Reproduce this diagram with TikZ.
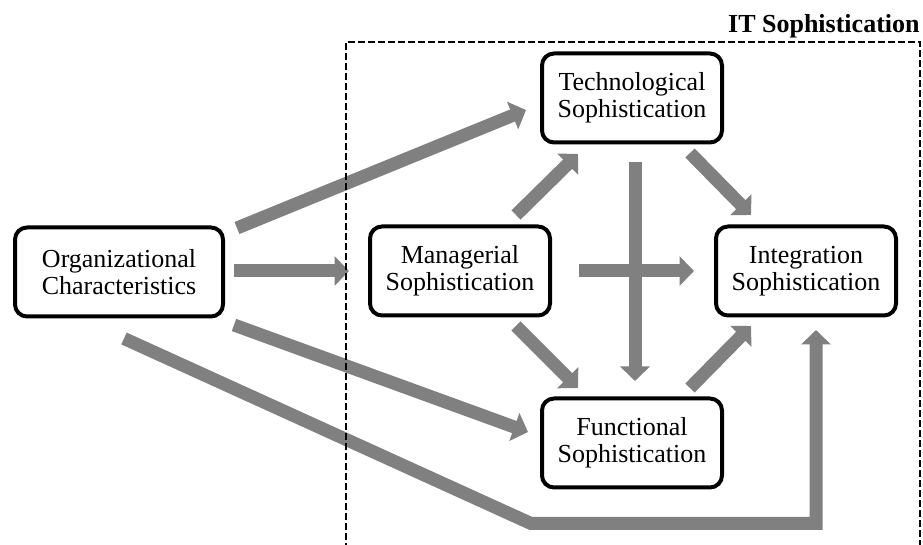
\documentclass[tikz,border=0pt]{standalone}
\usepackage{fontspec}
\setmainfont{Liberation Serif}
\usetikzlibrary{arrows.meta,positioning}
\tikzset{
    sophbox/.style = {draw, line width=2pt, rounded corners=6pt, fill=white, align=center,
        minimum width=90pt, minimum height=44.5pt, font=\fontsize{13}{13.5}\selectfont},
    flow/.style = {draw=gray, line width=6.5pt, -{Triangle[width=14.5pt,length=7.25pt]}},
    frametitle/.style = {inner sep=0pt, font=\bfseries\fontsize{13}{14}\selectfont}
}

\begin{document}
\begin{tikzpicture}[x=0.5pt,y=-0.5pt]
    \useasboundingbox (0,0) rectangle (923,545);

    %% boxes
    \node[sophbox, minimum width=104pt] (org) at (119,272) {Organizational\\Characteristics};
    \node[sophbox] (tech) at (632,98) {Technological\\Sophistication};
    \node[sophbox] (man) at (460,271) {Managerial\\Sophistication};
    \node[sophbox] (int) at (806,271) {Integration\\Sophistication};
    \node[sophbox] (func) at (632,443) {Functional\\Sophistication};

    %% from the organization
    \draw[flow] ([xshift=6pt,yshift=-1.25pt]org.north east) -- ([xshift=-7pt,yshift=-6pt]tech.west);
    \draw[flow] ([xshift=4.5pt,yshift=0.5pt]org.east) -- ([xshift=-9.5pt]man.west);
    \draw[flow] ([xshift=4.5pt,yshift=-3.25pt]org.south east) -- ([xshift=-6pt,yshift=5.5pt]func.west);
    \coordinate (bendpt) at (531,523.5);
    \draw[flow] ([xshift=2.5pt,yshift=-10pt]org.south) -- (bendpt) -| ([xshift=5pt,yshift=-6.25pt]int.south);

    %% inside IT sophistication
    \draw[flow] ([xshift=-18pt,yshift=4.75pt]man.north east) -- ([xshift=19pt,yshift=-4.75pt]tech.south west);
    \draw[flow] ([xshift=-18pt,yshift=-4.25pt]man.south east) -- ([xshift=19pt,yshift=4.25pt]func.north west);
    \draw[flow] ([xshift=13.5pt]man.east) -- ([xshift=-10pt]int.west);
    \draw[flow] ([xshift=1.5pt,yshift=-8.75pt]tech.south) -- ([xshift=1.5pt,yshift=7.75pt]func.north);
    \draw[flow] ([xshift=-17pt,yshift=-4.25pt]tech.south east) -- ([xshift=18.5pt,yshift=4.75pt]int.north west);
    \draw[flow] ([xshift=-17pt,yshift=4.25pt]func.north east) -- ([xshift=18.5pt,yshift=-4.25pt]int.south west);

    %% frame
    \draw[line width=0.8pt, dash pattern=on 3.5pt off 1.5pt] (346,550) -- (346,42) -- (920,42) -- (920,550);
    \node[frametitle, anchor=base east] (ittitle) at (920,33) {IT Sophistication};
\end{tikzpicture}
\end{document}
